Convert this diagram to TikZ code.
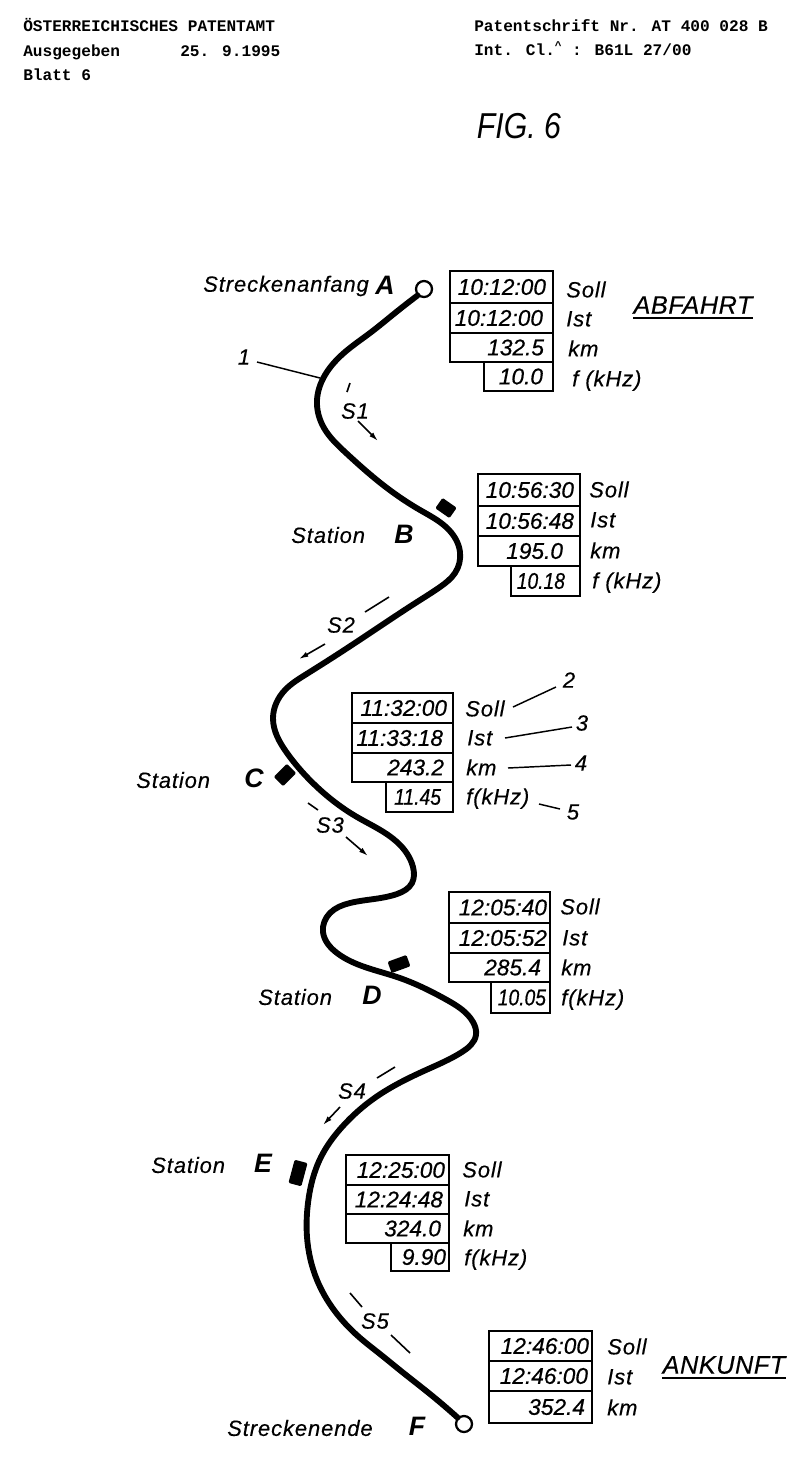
\documentclass[tikz,border=0pt]{standalone}
\usepackage{fontspec}
\usepackage{graphicx}
\setmainfont{Liberation Sans}
\newfontfamily\monobold{Liberation Mono Bold}
\newfontfamily\labfont[LetterSpace=4,FakeBold=0.3,ItalicFont={Liberation Sans Italic}]{Liberation Sans}
\newfontfamily\titlefont[LetterSpace=2,FakeBold=0.3,ItalicFont={Liberation Sans Italic}]{Liberation Sans}
\newfontfamily\numfont[FakeBold=0.5,ItalicFont={Liberation Sans Italic}]{Liberation Sans}
\usetikzlibrary{arrows.meta,hobby}
\newcommand{\pxcell}[7][6]{% padding, name, xl, xr, ytop, ybot, text
  \node[cell, minimum width={(#4-#3)*0.75pt}, minimum height={(#6-#5)*0.75pt},
        text width={(#4-#3-2*#1)*0.75pt}] (#2) at ({(#3+#4)/2},{(#5+#6)/2}) {\hfill\llap{#7}};}
\newcommand{\tight}[1]{\scalebox{0.85}[1]{#1}}
\tikzset{
  cell/.style={draw=black, line width=1.8pt, inner xsep=0pt, inner ysep=0pt, align=right,
    font=\numfont\fontsize{17}{18}\selectfont\itshape, fill=white},
  lab/.style={font=\labfont\fontsize{16.5}{18}\selectfont\itshape, inner sep=0pt},
  labw/.style={lab, anchor=base west, yshift=-5.5pt},
  big/.style={font=\bfseries\itshape\fontsize{20}{22}\selectfont, inner sep=0pt},
  head/.style={font=\monobold\fontsize{12.1}{14}\selectfont, inner sep=0pt, anchor=base west},
  title/.style={font=\titlefont\fontsize{19}{20}\selectfont\itshape, inner sep=0pt},
  rule/.style={line width=1.5pt},
  track/.style={line width=4.4pt, line join=round, line cap=round},
  term/.style={circle, draw=black, line width=1.7pt, fill=white, minimum size=12pt, inner sep=0pt},
  stn/.style={fill=black, rounded corners=1pt, inner sep=0pt, rectangle},
  thin/.style={line width=1.1pt},
  tick/.style={line width=1.2pt},
  arr/.style={line width=1.2pt, -{Latex[length=7pt,width=4pt]}},
}
\begin{document}
\begin{tikzpicture}[x=0.75pt,y=-0.75pt]
\useasboundingbox (0,0) rectangle (810,1472);
\fill[white] (0,0) rectangle (810,1472);
% header
\node[head] (h1) at (23,31) {ÖSTERREICHISCHES PATENTAMT};
\node[head] (h2) at (23,56) {Ausgegeben};
\node[head] (h3) at (180,56) {25. 9.1995};
\node[head] (h4) at (23,80) {Blatt 6};
\node[head] (h5) at (474,31) {Patentschrift Nr. AT 400 028 B};
\node[head] (h6) at (474,55) {Int. Cl.\textsuperscript{\^{}} : B61L 27/00};
\node[font=\itshape\fontsize{27}{30}\selectfont, inner sep=0pt, xscale=0.84] (fig) at (519,126) {FIG. 6};
% track
\node[term] (A) at (424,289) {};
\node[term] (F) at (464,1424) {};
\coordinate (A1) at (A.south west);
\coordinate (F1) at (F.north west);
\draw[track, use Hobby shortcut] (A1) .. (395,313) .. (370,333) .. (345,352) .. (325,375) .. (317,400) .. (324,428) .. (345,452) .. (387,488) .. (420,510) .. (446,527) .. (460,552) .. (455,573) .. (440,587) .. (417,602) .. (376,629) .. (335,656) .. (305,675) .. (285,690) .. (273,718) .. (287,753) .. (317,787) .. (357,817) .. (397,842) .. (413,867) .. (412,883) .. (397,894) .. (350,903) .. (330,913) .. (323,932) .. (337,953) .. (397,977) .. (447,1000) .. (473,1022) .. (476,1035) .. (462,1052) .. (426,1070) .. (376,1097) .. (342,1127) .. (321,1157) .. (308,1203) .. (307,1237) .. (317,1280) .. (334,1310) .. (359,1337) .. (380,1354) .. (401,1371) .. (430,1394) .. (F1);
% stations
\node[stn, rotate=-35, minimum width=13pt, minimum height=9.5pt] (sB) at (446,508) {};
\node[stn, rotate=45, minimum width=14pt, minimum height=10pt] (sC) at (285,775) {};
\node[stn, rotate=20, minimum width=15pt, minimum height=9pt] (sD) at (399,964) {};
\node[stn, rotate=75, minimum width=18pt, minimum height=10pt] (sE) at (298,1173) {};
% place labels
\node[lab, anchor=west] (lA) at (203,286) {Streckenanfang};
\node[big] (nA) at (385,285) {A};
\node[lab, anchor=west] (lB) at (291,535) {Station};
\node[big] (nB) at (404,534) {B};
\node[lab, anchor=west] (lC) at (136,780) {Station};
\node[big] (nC) at (254,778) {C};
\node[lab, anchor=west] (lD) at (258,997) {Station};
\node[big] (nD) at (372,995) {D};
\node[lab, anchor=west] (lE) at (151,1165) {Station};
\node[big] (nE) at (263,1163) {E};
\node[lab, anchor=west] (lF) at (227,1428) {Streckenende};
\node[big] (nF) at (417,1426) {F};
% section labels and direction marks
\node[lab] (n1) at (244,357) {1};
\coordinate (n1a) at (257,362);
\coordinate (n1b) at (320,378);
\draw[thin] (n1a) -- (n1b);
\node[lab] (S1) at (355,411) {S1};
\coordinate (s1a) at (350,383); \coordinate (s1b) at (347,392);
\draw[tick] (s1a) -- (s1b);
\coordinate (s1c) at (358,421); \coordinate (s1d) at (378,441);
\draw[arr] (s1c) -- (s1d);
\node[lab] (S2) at (341,625) {S2};
\coordinate (s2a) at (389,597); \coordinate (s2b) at (365,612);
\draw[tick] (s2a) -- (s2b);
\coordinate (s2c) at (325,644); \coordinate (s2d) at (299,659);
\draw[arr] (s2c) -- (s2d);
\node[lab] (S3) at (330,825) {S3};
\coordinate (s3a) at (308,803); \coordinate (s3b) at (318,810);
\draw[tick] (s3a) -- (s3b);
\coordinate (s3c) at (346,837); \coordinate (s3d) at (368,856);
\draw[arr] (s3c) -- (s3d);
\node[lab] (S4) at (352,1091) {S4};
\coordinate (s4a) at (395,1067); \coordinate (s4b) at (377,1078);
\draw[tick] (s4a) -- (s4b);
\coordinate (s4c) at (340,1107); \coordinate (s4d) at (323,1125);
\draw[arr] (s4c) -- (s4d);
\node[lab] (S5) at (375,1321) {S5};
\coordinate (s5a) at (350,1293); \coordinate (s5b) at (362,1307);
\draw[tick] (s5a) -- (s5b);
\coordinate (s5c) at (391,1335); \coordinate (s5d) at (410,1353);
\draw[tick] (s5c) -- (s5d);
% table A
\pxcell[7]{a1}{450}{553}{271}{303}{10:12:00}
\pxcell[10]{a2}{450}{553}{303}{333}{10:12:00}
\pxcell[9]{a3}{450}{553}{333}{362}{132.5}
\pxcell[10]{a4}{484}{553}{362}{391}{10.0}
\node[labw] (as) at (566,290) {Soll};
\node[labw] (ai) at (566,319) {Ist};
\node[labw] (ak) at (568,349) {km};
\node[labw] (af) at (572,379) {f (kHz)};
\node[title] (abf) at (693,305) {ABFAHRT};
\draw[rule] ([yshift=-3pt]abf.south west) -- ([yshift=-3pt]abf.south east);
% table B
\pxcell[6]{b1}{478}{580}{474}{506}{10:56:30}
\pxcell[6]{b2}{478}{580}{506}{536}{10:56:48}
\pxcell[17]{b3}{478}{580}{536}{566}{195.0}
\pxcell[15]{b4}{511}{580}{566}{596}{\tight{10.18}}
\node[labw] (bs) at (589,490) {Soll};
\node[labw] (bi) at (590,520) {Ist};
\node[labw] (bk) at (590,551) {km};
\node[labw] (bf) at (592,581) {f (kHz)};
% table C
\pxcell[6]{c1}{352}{453}{693}{723}{11:32:00}
\pxcell[10]{c2}{352}{453}{723}{753}{11:33:18}
\pxcell[9]{c3}{352}{453}{753}{782}{243.2}
\pxcell[12]{c4}{386}{453}{782}{812}{\tight{11.45}}
\node[labw] (cs) at (465,709) {Soll};
\node[labw] (ci) at (467,738) {Ist};
\node[labw] (ck) at (466,768) {km};
\node[labw] (cf) at (466,797) {f(kHz)};
\node[lab] (n2) at (569,680) {2};
\node[lab] (n3) at (582,723) {3};
\node[lab] (n4) at (581,763) {4};
\node[lab] (n5) at (573,812) {5};
\coordinate (l2a) at (513,707); \coordinate (l2b) at (556,687);
\coordinate (l3a) at (505,738); \coordinate (l3b) at (572,727);
\coordinate (l4a) at (508,768); \coordinate (l4b) at (571,765);
\coordinate (l5a) at (539,804); \coordinate (l5b) at (560,809);
\draw[thin] (l2a) -- (l2b); \draw[thin] (l3a) -- (l3b); \draw[thin] (l4a) -- (l4b); \draw[thin] (l5a) -- (l5b);
% table D
\pxcell[3]{d1}{449}{550}{892}{923}{12:05:40}
\pxcell[3]{d2}{449}{550}{923}{953}{12:05:52}
\pxcell[9]{d3}{449}{550}{953}{982}{285.4}
\pxcell[4]{d4}{491}{550}{982}{1013}{\tight{10.05}}
\node[labw] (ds) at (560,907) {Soll};
\node[labw] (di) at (562,938) {Ist};
\node[labw] (dk) at (561,968) {km};
\node[labw] (df) at (561,998) {f(kHz)};
% table E
\pxcell[4]{e1}{346}{449}{1155}{1185}{12:25:00}
\pxcell[6]{e2}{346}{449}{1185}{1214}{12:24:48}
\pxcell[8]{e3}{346}{449}{1214}{1243}{324.0}
\pxcell[3]{e4}{391}{449}{1243}{1271}{9.90}
\node[labw] (es) at (462,1170) {Soll};
\node[labw] (ei) at (464,1199) {Ist};
\node[labw] (ek) at (463,1229) {km};
\node[labw] (ef) at (464,1258) {f(kHz)};
% table F
\pxcell[3]{f1}{489}{592}{1331}{1361}{12:46:00}
\pxcell[4]{f2}{489}{592}{1361}{1391}{12:46:00}
\pxcell[7]{f3}{489}{592}{1391}{1423}{352.4}
\node[labw] (fs) at (607,1347) {Soll};
\node[labw] (fi) at (607,1377) {Ist};
\node[labw] (fk) at (607,1408) {km};
\node[title] (ank) at (724,1365) {ANKUNFT};
\draw[rule] ([yshift=-3pt]ank.south west) -- ([yshift=-3pt]ank.south east);
\end{tikzpicture}
\end{document}
